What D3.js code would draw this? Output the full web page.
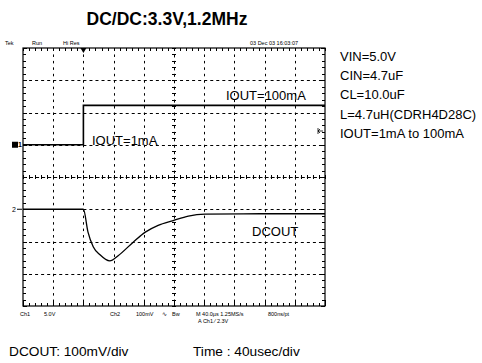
<!DOCTYPE html>
<html><head><meta charset="utf-8">
<script src="https://cdn.jsdelivr.net/npm/d3@7"></script>
<style>body{margin:0;background:#fff}svg{display:block}text{font-family:Arial,"Liberation Sans",sans-serif;fill:#000}</style>
</head><body>
<svg id="c" width="482" height="363"></svg>
<script>
// ---- data ----
const title = "DC/DC:3.3V,1.2MHz";
const conditions = ["VIN=5.0V","CIN=4.7uF","CL=10.0uF","L=4.7uH(CDRH4D28C)","IOUT=1mA to 100mA"];
const xDivs = [0,40,80,120,160,200,240,280,320,360,400];   // µs, 40 µs/div
const yDivs = [0,1,2,3,4,5,6,7,8];                          // divisions
// Ch1 (load step) in divisions relative to its marker
const ch1Time = [0, 80, 80, 400];
const ch1Div  = [0, 0, 1.22, 1.22];
// Ch2 DCOUT deviation (mV), 100 mV/div
const ch2Time = [0, 80, 86, 93, 102, 115, 126, 146, 162, 179, 199, 219, 241, 314, 400];
const ch2mV   = [0, 0, -70, -116, -141, -160, -144, -102, -71, -50, -35, -21, -15, -14, -14];
const ch1Offset = 5, ch2Offset = 3, ch2Scale = 100;
const bottomLabel1 = "DCOUT: 100mV/div", bottomLabel2 = "Time : 40usec/div";

const svg = d3.select("#c");
const x = d3.scaleLinear().domain([0,400]).range([23,325]);
const y = d3.scaleLinear().domain([0,8]).range([306,48]);
const X0 = x(0), X1 = x(400), Y0 = y(0), Y1 = y(8);
const mx = (x(40)-x(0))/5, my = (y(0)-y(1))/5;
const px = v => Math.round(v)+0.5;

// title
svg.append("text").attr("x",167).attr("y",25).attr("text-anchor","middle")
  .style("font-size","17.5px").style("font-weight","bold").text(title);

const g = svg.append("g");
// dashed grid
g.selectAll("line.gv").data(xDivs.filter(d=>d>0&&d<400&&d!==200)).join("line")
  .attr("x1",d=>px(x(d))).attr("x2",d=>px(x(d))).attr("y1",Y1).attr("y2",Y0)
  .attr("stroke","#000").attr("stroke-width",1).attr("stroke-dasharray",`2.5,${(my-2.5).toFixed(2)}`);
g.selectAll("line.gh").data(yDivs.filter(d=>d>0&&d<8&&d!==4)).join("line")
  .attr("y1",d=>px(y(d))).attr("y2",d=>px(y(d))).attr("x1",X0).attr("x2",X1)
  .attr("stroke","#000").attr("stroke-width",1).attr("stroke-dasharray",`3,${(mx-3).toFixed(2)}`);
// center lines
g.append("line").attr("x1",px(x(200))).attr("x2",px(x(200))).attr("y1",Y1).attr("y2",Y0)
  .attr("stroke","#000").attr("stroke-dasharray","3,3.45");
g.append("line").attr("y1",px(y(4))).attr("y2",px(y(4))).attr("x1",X0).attr("x2",X1)
  .attr("stroke","#000").attr("stroke-dasharray","4,2.04");
// minor ticks
const minorX = d3.range(0,51).map(i=>X0+i*mx);
const minorY = d3.range(0,41).map(i=>Y0-i*my);
const tk = g.append("g").attr("stroke","#000").attr("stroke-width",1);
minorX.forEach((p,i)=>{
  const q = px(p);
  tk.append("line").attr("x1",q).attr("x2",q).attr("y1",Y1).attr("y2",Y1+3);
  tk.append("line").attr("x1",q).attr("x2",q).attr("y1",Y0).attr("y2",Y0-(i%5===0?6:3));
  tk.append("line").attr("x1",q).attr("x2",q).attr("y1",y(4)-2).attr("y2",y(4)+2);
});
minorY.forEach((p,i)=>{
  const q = px(p);
  tk.append("line").attr("y1",q).attr("y2",q).attr("x1",X0).attr("x2",X0+(i%5===0?4:3));
  tk.append("line").attr("y1",q).attr("y2",q).attr("x1",X1).attr("x2",X1-(i%5===0?4:3));
  tk.append("line").attr("y1",q).attr("y2",q).attr("x1",x(200)-2).attr("x2",x(200)+2);
});
// frame
g.append("rect").attr("x",X0).attr("y",Y1).attr("width",X1-X0).attr("height",Y0-Y1)
  .attr("fill","none").attr("stroke","#000").attr("stroke-width",1.2);

// traces
const l1 = d3.line().x((d,i)=>x(ch1Time[i])).y((d,i)=>y(ch1Offset+ch1Div[i]));
svg.append("path").attr("d",l1(ch1Time)).attr("fill","none").attr("stroke","#000").attr("stroke-width",1.6);
const l2 = d3.line().curve(d3.curveMonotoneX).x((d,i)=>x(ch2Time[i])).y((d,i)=>y(ch2Offset+ch2mV[i]/ch2Scale));
svg.append("path").attr("d",l2(ch2Time)).attr("fill","none").attr("stroke","#000").attr("stroke-width",1.3);

// markers
svg.append("rect").attr("x",12).attr("y",y(ch1Offset)-3).attr("width",6).attr("height",6).attr("fill","#000");
svg.append("text").attr("x",18).attr("y",y(ch1Offset)+2.5).style("font-size","7px").style("font-weight","bold").text("1");
svg.append("text").attr("x",12).attr("y",y(ch2Offset)+2.5).style("font-size","7px").text("2");
svg.append("path").attr("d",`M17,${y(ch2Offset)}H22`).attr("stroke","#000");
svg.append("path").attr("d",`M${x(80)-3},${Y1}L${x(80)+3},${Y1}L${x(80)},${Y1+5}Z`).attr("fill","#000");
svg.append("path").attr("d",`M${X1-2},131H${X1-7}M${X1-5},129L${X1-7},131L${X1-5},133M${X1-7},128V134`).attr("stroke","#000").attr("fill","none").attr("stroke-width",0.8);

// trace labels
svg.append("text").attr("x",226).attr("y",100).style("font-size","13px").text("IOUT=100mA");
svg.append("text").attr("x",92).attr("y",145).style("font-size","13px").text("IOUT=1mA");
svg.append("text").attr("x",252).attr("y",236).style("font-size","13px").text("DCOUT");

// scope small texts
const small = [["Tek",5,45],["Run",32,45],["Hi Res",63,45],["03 Dec 03 16:03:07",250,45],
  ["Ch1",20,316],["5.0V",44,316],["Ch2",110,316],["100mV",136,316],["∿",162,316],["Bw",172,316],
  ["M 40.0µs 1.25MS/s",196,316],["800ns/pt",268,316],["A  Ch1  ⁄  2.3V",198,323]];
svg.selectAll("text.sm").data(small).join("text").attr("class","sm")
  .attr("x",d=>d[1]).attr("y",d=>d[2]).style("font-size","5.5px").text(d=>d[0]);

// conditions
svg.selectAll("text.cond").data(conditions).join("text").attr("class","cond")
  .attr("x",340).attr("y",(d,i)=>61+i*19.2).style("font-size","13px").text(d=>d);

// bottom labels
svg.append("text").attr("x",9).attr("y",356).style("font-size","13.7px").text(bottomLabel1);
svg.append("text").attr("x",193).attr("y",356).style("font-size","13.7px").text(bottomLabel2);
</script>
</body></html>
